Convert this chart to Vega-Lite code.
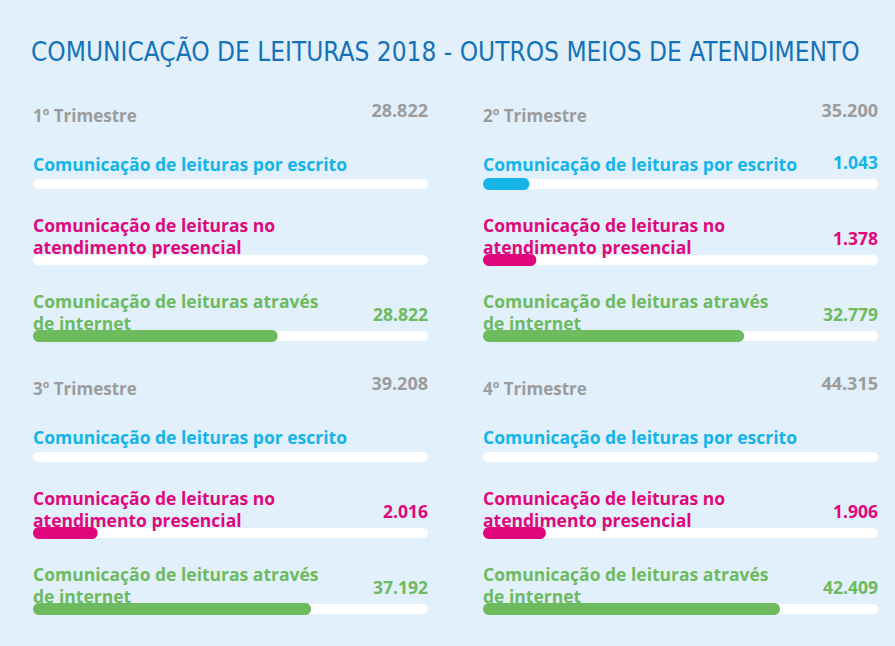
{
  "$schema": "https://vega.github.io/schema/vega-lite/v6.json",
  "background": "#e1f0fa",
  "padding": {"left": 31, "top": 40, "right": 20, "bottom": 44},
  "bounds": "flush",
  "title": {
    "text": "COMUNICAÇÃO DE LEITURAS 2018 - OUTROS MEIOS DE ATENDIMENTO",
    "anchor": "start",
    "font": "DejaVu Sans Condensed, Liberation Sans, sans-serif",
    "fontSize": 26,
    "fontWeight": "normal",
    "color": "#1672b8",
    "offset": 37,
    "dx": -2
  },
  "data": {
    "values": [
      {"q": "1º Trimestre", "cat": "total", "label": "1º Trimestre", "value": 28822},
      {"q": "1º Trimestre", "cat": "escrito", "label": "Comunicação de leituras por escrito", "value": 0},
      {"q": "1º Trimestre", "cat": "presencial", "label": "Comunicação de leituras no\natendimento presencial", "value": 0},
      {"q": "1º Trimestre", "cat": "internet", "label": "Comunicação de leituras através\nde internet", "value": 28822},
      {"q": "2º Trimestre", "cat": "total", "label": "2º Trimestre", "value": 35200},
      {"q": "2º Trimestre", "cat": "escrito", "label": "Comunicação de leituras por escrito", "value": 1043},
      {"q": "2º Trimestre", "cat": "presencial", "label": "Comunicação de leituras no\natendimento presencial", "value": 1378},
      {"q": "2º Trimestre", "cat": "internet", "label": "Comunicação de leituras através\nde internet", "value": 32779},
      {"q": "3º Trimestre", "cat": "total", "label": "3º Trimestre", "value": 39208},
      {"q": "3º Trimestre", "cat": "escrito", "label": "Comunicação de leituras por escrito", "value": 0},
      {"q": "3º Trimestre", "cat": "presencial", "label": "Comunicação de leituras no\natendimento presencial", "value": 2016},
      {"q": "3º Trimestre", "cat": "internet", "label": "Comunicação de leituras através\nde internet", "value": 37192},
      {"q": "4º Trimestre", "cat": "total", "label": "4º Trimestre", "value": 44315},
      {"q": "4º Trimestre", "cat": "escrito", "label": "Comunicação de leituras por escrito", "value": 0},
      {"q": "4º Trimestre", "cat": "presencial", "label": "Comunicação de leituras no\natendimento presencial", "value": 1906},
      {"q": "4º Trimestre", "cat": "internet", "label": "Comunicação de leituras através\nde internet", "value": 42409}
    ]
  },
  "facet": {"field": "q", "type": "nominal", "header": {"labels": false, "title": null, "labelExpr": "''", "labelFontSize": 0, "labelPadding": 0}},
  "columns": 2,
  "spacing": {"column": 55, "row": 45},
  "spec": {
    "width": 395,
    "height": 228,
    "layer": [
      {
        "transform": [{"filter": "datum.cat !== 'total'"}],
        "mark": {"type": "bar", "color": "#ffffff", "height": 10, "cornerRadius": 5, "yOffset": 24},
        "encoding": {
          "y": {"field": "cat", "type": "ordinal", "axis": null,
            "scale": {"domain": ["escrito", "presencial", "internet"], "paddingInner": 0, "paddingOuter": 0}},
          "x": {"datum": 75000, "type": "quantitative", "axis": null, "scale": {"type": "sqrt", "domain": [0, 75000], "nice": false}}
        }
      },
      {
        "transform": [{"filter": "datum.cat !== 'total' && datum.value > 0"}],
        "mark": {"type": "bar", "height": 12, "cornerRadius": 6, "yOffset": 24},
        "encoding": {
          "y": {"field": "cat", "type": "ordinal"},
          "x": {"field": "value", "type": "quantitative", "axis": null},
          "color": {"field": "cat", "type": "nominal", "legend": null,
            "scale": {"domain": ["total", "escrito", "presencial", "internet"], "range": ["#9c9c9c", "#14b4e8", "#e0077d", "#6dba5f"]}}
        }
      },
      {
        "transform": [{"filter": "datum.cat === 'escrito'"}],
        "mark": {"type": "text", "align": "left", "baseline": "alphabetic", "yOffset": 24, "dy": -13, "font": "Open Sans", "fontWeight": "bold", "fontSize": 17.5, "lineBreak": "\n", "lineHeight": 22},
        "encoding": {
          "y": {"field": "cat", "type": "ordinal"},
          "x": {"datum": 0, "type": "quantitative"},
          "text": {"field": "label"},
          "color": {"field": "cat", "type": "nominal", "legend": null}
        }
      },
      {
        "transform": [{"filter": "datum.cat === 'presencial' || datum.cat === 'internet'"}],
        "mark": {"type": "text", "align": "left", "baseline": "alphabetic", "yOffset": 24, "dy": -28, "font": "Open Sans", "fontWeight": "bold", "fontSize": 17.5, "lineBreak": "\n", "lineHeight": 22},
        "encoding": {
          "y": {"field": "cat", "type": "ordinal"},
          "x": {"datum": 0, "type": "quantitative"},
          "text": {"field": "label"},
          "color": {"field": "cat", "type": "nominal", "legend": null}
        }
      },
      {
        "transform": [{"filter": "datum.cat !== 'total' && datum.value > 0"}],
        "mark": {"type": "text", "align": "right", "baseline": "alphabetic", "yOffset": 24, "dy": -15, "font": "Open Sans", "fontWeight": "bold", "fontSize": 17.5},
        "encoding": {
          "y": {"field": "cat", "type": "ordinal"},
          "x": {"datum": 75000, "type": "quantitative"},
          "text": {"field": "value", "type": "quantitative", "format": ",d"},
          "color": {"field": "cat", "type": "nominal", "legend": null}
        }
      },
      {
        "transform": [{"filter": "datum.cat === 'total'"}],
        "mark": {"type": "text", "align": "left", "baseline": "alphabetic", "yOffset": 24, "dy": -62, "font": "Open Sans", "fontWeight": "bold", "fontSize": 17},
        "encoding": {
          "y": {"datum": "escrito", "type": "ordinal"},
          "x": {"datum": 0, "type": "quantitative"},
          "text": {"field": "label"},
          "color": {"field": "cat", "type": "nominal", "legend": null}
        }
      },
      {
        "transform": [{"filter": "datum.cat === 'total'"}],
        "mark": {"type": "text", "align": "right", "baseline": "alphabetic", "yOffset": 24, "dy": -67, "font": "Open Sans", "fontWeight": "bold", "fontSize": 18},
        "encoding": {
          "y": {"datum": "escrito", "type": "ordinal"},
          "x": {"datum": 75000, "type": "quantitative"},
          "text": {"field": "value", "type": "quantitative", "format": ",d"},
          "color": {"field": "cat", "type": "nominal", "legend": null}
        }
      }
    ]
  },
  "config": {
    "view": {"stroke": null},
    "header": {"labels": false, "title": null},
    "headerFacet": {"labels": false, "title": null},
    "locale": {"number": {"decimal": ",", "thousands": ".", "grouping": [3], "currency": ["", " €"]}}
  }
}
